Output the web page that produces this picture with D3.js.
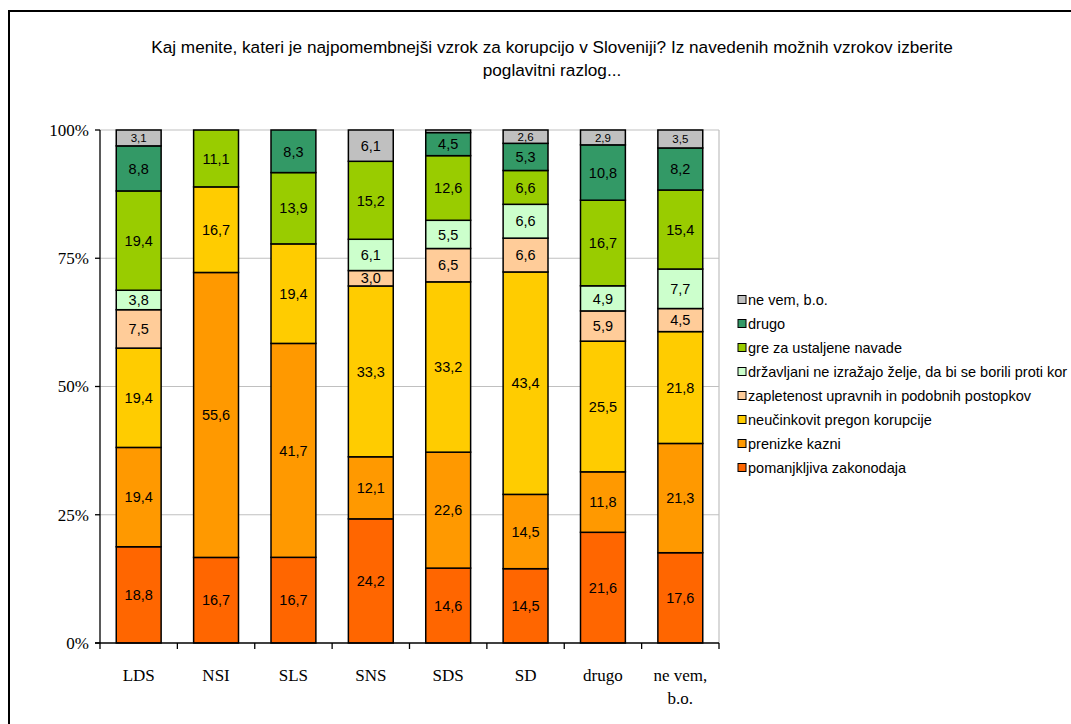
<!DOCTYPE html>
<html>
<head>
<meta charset="utf-8">
<script src="https://cdn.jsdelivr.net/npm/d3@7"></script>
<style>
  html, body { margin: 0; padding: 0; background: #fff; }
  svg { display: block; }
</style>
</head>
<body>
<svg id="chart" width="1071" height="724"></svg>
<script>
// Parties (categories along the x axis)
const categories = ["LDS", "NSI", "SLS", "SNS", "SDS", "SD", "drugo", "ne vem, b.o."];

// Answer options, bottom of the stack first
const seriesNames = [
  "pomanjkljiva zakonodaja",
  "prenizke kazni",
  "neučinkovit pregon korupcije",
  "zapletenost upravnih in podobnih postopkov",
  "državljani ne izražajo želje, da bi se borili proti kor",
  "gre za ustaljene navade",
  "drugo",
  "ne vem, b.o."
];

// Percentages per answer option, one value per category
const pomanjkljiva = [18.8, 16.7, 16.7, 24.2, 14.6, 14.5, 21.6, 17.6];
const prenizke     = [19.4, 55.6, 41.7, 12.1, 22.6, 14.5, 11.8, 21.3];
const neucinkovit  = [19.4, 16.7, 19.4, 33.3, 33.2, 43.4, 25.5, 21.8];
const zapletenost  = [7.5, 0, 0, 3.0, 6.5, 6.6, 5.9, 4.5];
const drzavljani   = [3.8, 0, 0, 6.1, 5.5, 6.6, 4.9, 7.7];
const navade       = [19.4, 11.1, 13.9, 15.2, 12.6, 6.6, 16.7, 15.4];
const drugo        = [8.8, 0, 8.3, 0, 4.5, 5.3, 10.8, 8.2];
const neVem        = [3.1, 0, 0, 6.1, 0.5, 2.6, 2.9, 3.5];

const seriesValues = [pomanjkljiva, prenizke, neucinkovit, zapletenost, drzavljani, navade, drugo, neVem];
const colors = ["#FF6600", "#FF9900", "#FFCC00", "#FFCC99", "#CCFFCC", "#99CC00", "#339966", "#C0C0C0"];

const yTicks = [0, 0.25, 0.5, 0.75, 1];
const yTickLabels = ["0%", "25%", "50%", "75%", "100%"];

const titleLines = [
  "Kaj menite, kateri je najpomembnejši vzrok za korupcijo v Sloveniji? Iz navedenih možnih vzrokov izberite",
  "poglavitni razlog..."
];

const sans = "Liberation Sans, Arial, sans-serif";
const serif = "Liberation Serif, Times New Roman, serif";

const svg = d3.select("#chart");

// outer frame (only top and left edges fall inside the page)
svg.append("rect")
  .attr("x", 9).attr("y", 11).attr("width", 1200).attr("height", 800)
  .attr("fill", "none").attr("stroke", "#000").attr("stroke-width", 2);

// title
svg.append("g").selectAll("text").data(titleLines).join("text")
  .attr("x", 552).attr("y", (d, i) => 53 + i * 23)
  .attr("text-anchor", "middle")
  .attr("font-family", sans)
  .attr("font-size", 17.2)
  .attr("fill", "#000")
  .text(d => d);

const plot = { left: 100, right: 719, top: 130, bottom: 643 };

const x = d3.scaleBand().domain(categories)
  .range([plot.left, plot.right]).paddingInner(0.42).paddingOuter(0.21);
const y = d3.scaleLinear().domain([0, 1]).range([plot.bottom, plot.top]);

// gridlines + plot border (top and right)
const grid = svg.append("g");
grid.selectAll("line").data([0.25, 0.5, 0.75, 1]).join("line")
  .attr("x1", plot.left).attr("x2", plot.right)
  .attr("y1", d => y(d)).attr("y2", d => y(d))
  .attr("stroke", "#c0c0c0").attr("stroke-width", 1.2);
grid.append("line")
  .attr("x1", plot.right).attr("x2", plot.right)
  .attr("y1", plot.top).attr("y2", plot.bottom)
  .attr("stroke", "#c0c0c0").attr("stroke-width", 1.2);

// stacked data (normalised to 100% per category)
const rows = categories.map((c, i) => {
  const row = { cat: c };
  const total = d3.sum(seriesValues, s => s[i]);
  seriesNames.forEach((n, k) => { row[n] = seriesValues[k][i] / total; row[n + "__raw"] = seriesValues[k][i]; });
  return row;
});
const stack = d3.stack().keys(seriesNames);
const stacked = stack(rows);

const barsG = svg.append("g");
stacked.forEach((layer, k) => {
  barsG.append("g").selectAll("rect")
    .data(layer.filter(d => d[1] - d[0] > 0))
    .join("rect")
    .attr("x", d => x(d.data.cat))
    .attr("width", x.bandwidth())
    .attr("y", d => y(d[1]))
    .attr("height", d => y(d[0]) - y(d[1]))
    .attr("fill", colors[k])
    .attr("stroke", "#000")
    .attr("stroke-width", 1.5);
});

// value labels
const fmt = v => v.toFixed(1).replace(".", ",");
stacked.forEach((layer, k) => {
  barsG.append("g").selectAll("text")
    .data(layer.filter(d => d.data[layer.key + "__raw"] >= 1))
    .join("text")
    .attr("x", d => x(d.data.cat) + x.bandwidth() / 2)
    .attr("y", d => (y(d[0]) + y(d[1])) / 2)
    .attr("dy", "0.36em")
    .attr("text-anchor", "middle")
    .attr("font-family", sans)
    .attr("font-size", d => (k === 7 && d.data[layer.key + "__raw"] < 4) ? 11.5 : 14.5)
    .attr("fill", "#000")
    .text(d => fmt(d.data[layer.key + "__raw"]));
});

// y axis
const yAxis = svg.append("g");
yAxis.append("line")
  .attr("x1", plot.left).attr("x2", plot.left)
  .attr("y1", plot.top).attr("y2", plot.bottom)
  .attr("stroke", "#000").attr("stroke-width", 1.3);
yAxis.selectAll(".tk").data(yTicks).join("line")
  .attr("x1", plot.left - 5).attr("x2", plot.left)
  .attr("y1", d => y(d)).attr("y2", d => y(d))
  .attr("stroke", "#000").attr("stroke-width", 1.3);
yAxis.selectAll("text").data(yTicks).join("text")
  .attr("x", plot.left - 11)
  .attr("y", d => y(d))
  .attr("dy", "0.35em")
  .attr("text-anchor", "end")
  .attr("font-family", serif)
  .attr("font-size", 17)
  .attr("fill", "#000")
  .text((d, i) => yTickLabels[i]);

// x axis
const xAxis = svg.append("g");
xAxis.append("line")
  .attr("x1", plot.left - 5).attr("x2", plot.right)
  .attr("y1", plot.bottom).attr("y2", plot.bottom)
  .attr("stroke", "#000").attr("stroke-width", 1.3);
const boundaries = d3.range(categories.length + 1).map(i => plot.left + i * (plot.right - plot.left) / categories.length);
xAxis.selectAll(".tk").data(boundaries).join("line")
  .attr("x1", d => d).attr("x2", d => d)
  .attr("y1", plot.bottom).attr("y2", plot.bottom + 6)
  .attr("stroke", "#000").attr("stroke-width", 1.3);
const xl = xAxis.selectAll("text").data(categories).join("text")
  .attr("x", d => x(d) + x.bandwidth() / 2)
  .attr("y", 681)
  .attr("text-anchor", "middle")
  .attr("font-family", serif)
  .attr("font-size", 17)
  .attr("fill", "#000");
xl.each(function(d) {
  const parts = d === "ne vem, b.o." ? ["ne vem,", "b.o."] : [d];
  d3.select(this).selectAll("tspan").data(parts).join("tspan")
    .attr("x", x(d) + x.bandwidth() / 2)
    .attr("dy", (p, i) => i === 0 ? 0 : 23)
    .text(p => p);
});

// legend, top entry is the last series
const legendOrder = d3.range(seriesNames.length).reverse();
const lg = svg.append("g");
legendOrder.forEach((k, i) => {
  const cy = 300 + i * 24;
  lg.append("rect")
    .attr("x", 738).attr("y", cy - 4.5).attr("width", 8).attr("height", 8)
    .attr("fill", colors[k]).attr("stroke", "#000").attr("stroke-width", 1);
  lg.append("text")
    .attr("x", 748).attr("y", cy)
    .attr("dy", "0.36em")
    .attr("font-family", sans)
    .attr("font-size", 14.5)
    .attr("fill", "#000")
    .text(seriesNames[k]);
});
</script>
</body>
</html>
